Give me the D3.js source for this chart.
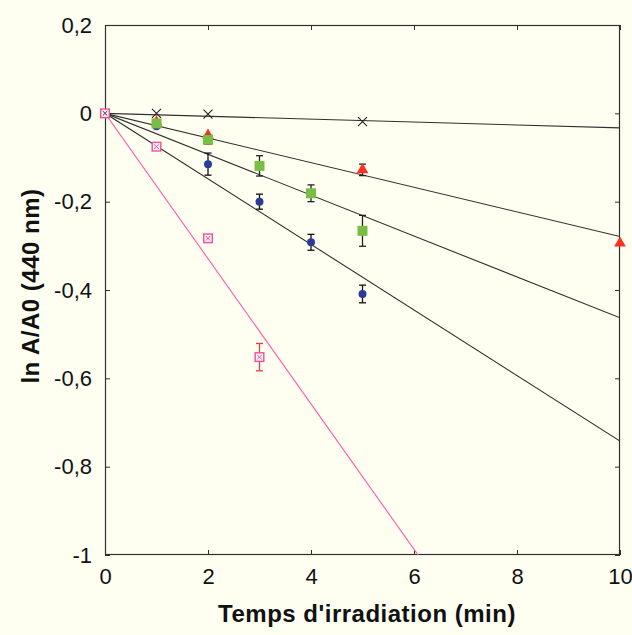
<!DOCTYPE html>
<html>
<head>
<meta charset="utf-8">
<script src="https://cdn.jsdelivr.net/npm/d3@7"></script>
<style>
  html, body { margin: 0; padding: 0; background: #FEFEF1; }
  svg { display: block; }
</style>
</head>
<body>
<svg id="chart" width="632" height="635"></svg>
<script>
// ---------- data ----------
const xTicks = [0, 2, 4, 6, 8, 10];
const xTickLabels = ["0", "2", "4", "6", "8", "10"];
const yTicks = [0.2, 0, -0.2, -0.4, -0.6, -0.8, -1];
const yTickLabels = ["0,2", "0", "-0,2", "-0,4", "-0,6", "-0,8", "-1"];
const xTitle = "Temps d'irradiation (min)";
const yTitle = "ln A/A0 (440 nm)";

// black crosses
const crossT = [0, 1, 2, 5];
const crossV = [0, 0, -0.002, -0.019];
// red triangles
const triT = [0, 1, 2, 5, 10];
const triV = [0, -0.02, -0.05, -0.128, -0.294];
const triErr = [0, 0, 0, 0.013, 0];
// green squares
const sqT = [0, 1, 2, 3, 4, 5];
const sqV = [0, -0.023, -0.06, -0.119, -0.181, -0.266];
const sqErr = [0, 0.005, 0.01, 0.023, 0.019, 0.035];
// blue dots
const dotT = [0, 1, 2, 3, 4, 5];
const dotV = [0, -0.029, -0.115, -0.2, -0.292, -0.409];
const dotErr = [0, 0, 0.025, 0.017, 0.018, 0.02];
// pink crossed boxes
const boxT = [0, 1, 2, 3];
const boxV = [0, -0.0755, -0.283, -0.552];
const boxErr = [0, 0, 0, 0.031];
// fitted slopes (y = k * t)
const fitNames = ["cross", "tri", "sq", "dot", "box"];
const fitSlopes = [-0.0033, -0.0279, -0.0463, -0.0742, -0.1645];

// ---------- layout ----------
const svg = d3.select("#chart");
const L = 105, T = 25, R = 620, B = 555;
const x = d3.scaleLinear().domain([0, 10]).range([L, R]);
const y = d3.scaleLinear().domain([-1, 0.2]).range([B, T]);

const col = {
  cross: "#222222",
  tri: "#FF3020",
  sq: "#78BE45",
  dot: "#2A3A96",
  box: "#EE5096",
  fit: "#303030",
  pinkLine: "#FF5AAA",
  frame: "#303030"
};

svg.append("defs").append("clipPath").attr("id", "plotclip")
  .append("rect").attr("x", L).attr("y", T).attr("width", R - L).attr("height", B - T);

// ---------- axes ----------
const tickLen = 5;
const font = "'Liberation Sans', Arial, sans-serif";

svg.append("g").attr("transform", `translate(0,${B})`)
  .call(d3.axisBottom(x).tickValues(xTicks).tickSizeInner(-tickLen).tickSizeOuter(0).tickPadding(10)
    .tickFormat((d, i) => xTickLabels[i]))
  .call(g => g.select(".domain").remove())
  .call(g => g.selectAll("line").attr("stroke", col.frame))
  .call(g => g.selectAll("text").attr("font-family", font).attr("font-size", 22).attr("fill", "#111").attr("dy", "0.85em"));

svg.append("g").attr("transform", `translate(0,${T})`)
  .call(d3.axisTop(x).tickValues(xTicks).tickSizeInner(-tickLen).tickSizeOuter(0).tickFormat(""))
  .call(g => g.select(".domain").remove())
  .call(g => g.selectAll("line").attr("stroke", col.frame));

svg.append("g").attr("transform", `translate(${L},0)`)
  .call(d3.axisLeft(y).tickValues(yTicks).tickSizeInner(-tickLen).tickSizeOuter(0).tickPadding(13)
    .tickFormat((d, i) => yTickLabels[i]))
  .call(g => g.select(".domain").remove())
  .call(g => g.selectAll("line").attr("stroke", col.frame))
  .call(g => g.selectAll("text").attr("font-family", font).attr("font-size", 22).attr("fill", "#111"));

svg.append("g").attr("transform", `translate(${R},0)`)
  .call(d3.axisRight(y).tickValues(yTicks).tickSizeInner(-tickLen).tickSizeOuter(0).tickFormat(""))
  .call(g => g.select(".domain").remove())
  .call(g => g.selectAll("line").attr("stroke", col.frame));

svg.append("rect").attr("x", L + 0.5).attr("y", T + 0.5).attr("width", R - L - 1).attr("height", B - T - 1)
  .attr("fill", "none").attr("stroke", col.frame).attr("stroke-width", 1.2);

// titles
svg.append("text").attr("x", 367).attr("y", 622).attr("text-anchor", "middle")
  .attr("font-family", font).attr("font-weight", "bold").attr("font-size", 24)
  .attr("letter-spacing", 0.5).attr("fill", "#111")
  .text(xTitle);
svg.append("text").attr("transform", "translate(39,286) rotate(-90)").attr("text-anchor", "middle")
  .attr("font-family", font).attr("font-weight", "bold").attr("font-size", 24)
  .attr("letter-spacing", 0.5).attr("fill", "#111")
  .text(yTitle);

// ---------- fitted lines ----------
const plot = svg.append("g").attr("clip-path", "url(#plotclip)");
fitSlopes.forEach((k, i) => {
  const name = fitNames[i];
  plot.append("line")
    .attr("x1", x(0)).attr("y1", y(0))
    .attr("x2", x(10)).attr("y2", y(k * 10))
    .attr("stroke", name === "box" ? col.pinkLine : col.fit)
    .attr("stroke-width", 1.1);
});

// ---------- markers ----------
const marks = svg.append("g");

function errBars(ts, vs, es, color) {
  ts.forEach((t, i) => {
    const e = es[i];
    if (!e) return;
    const cx = x(t), y1 = y(vs[i] + e), y2 = y(vs[i] - e);
    const g = marks.append("g").attr("stroke", color).attr("stroke-width", 1.3);
    g.append("line").attr("x1", cx).attr("x2", cx).attr("y1", y1).attr("y2", y2);
    g.append("line").attr("x1", cx - 3.5).attr("x2", cx + 3.5).attr("y1", y1).attr("y2", y1);
    g.append("line").attr("x1", cx - 3.5).attr("x2", cx + 3.5).attr("y1", y2).attr("y2", y2);
  });
}

// black crosses
crossT.forEach((t, i) => {
  const cx = x(t), cy = y(crossV[i]), s = 4.5;
  marks.append("path").attr("d", `M${cx - s},${cy - s}L${cx + s},${cy + s}M${cx - s},${cy + s}L${cx + s},${cy - s}`)
    .attr("stroke", col.cross).attr("stroke-width", 1.1).attr("fill", "none");
});

// red triangles
errBars(triT, triV, triErr, "#222");
marks.selectAll(".tri").data(triT.slice(1)).join("path")
  .attr("d", d3.symbol(d3.symbolTriangle, 60)())
  .attr("transform", (d, i) => `translate(${x(d)},${y(triV[i + 1])})`)
  .attr("fill", col.tri);

// blue dots
errBars(dotT, dotV, dotErr, "#111");
marks.selectAll(".dot").data(dotT.slice(1)).join("circle")
  .attr("cx", d => x(d)).attr("cy", (d, i) => y(dotV[i + 1])).attr("r", 4)
  .attr("fill", col.dot);

// green squares
errBars(sqT, sqV, sqErr, "#222");
marks.selectAll(".sq").data(sqT.slice(1)).join("rect")
  .attr("x", d => x(d) - 5).attr("y", (d, i) => y(sqV[i + 1]) - 5)
  .attr("width", 10).attr("height", 10)
  .attr("fill", col.sq);

// pink crossed boxes
errBars(boxT, boxV, boxErr, "#E0404A");
boxT.forEach((t, i) => {
  const cx = x(t), cy = y(boxV[i]), s = 4.3, c = 2.3;
  marks.append("rect").attr("x", cx - s).attr("y", cy - s).attr("width", 2 * s).attr("height", 2 * s)
    .attr("fill", "#FFF4F8").attr("stroke", col.box).attr("stroke-width", 1.4);
  marks.append("path").attr("d", `M${cx - c},${cy - c}L${cx + c},${cy + c}M${cx - c},${cy + c}L${cx + c},${cy - c}`)
    .attr("stroke", i === 0 ? "#333" : col.box).attr("stroke-width", 1);
});
</script>
</body>
</html>
